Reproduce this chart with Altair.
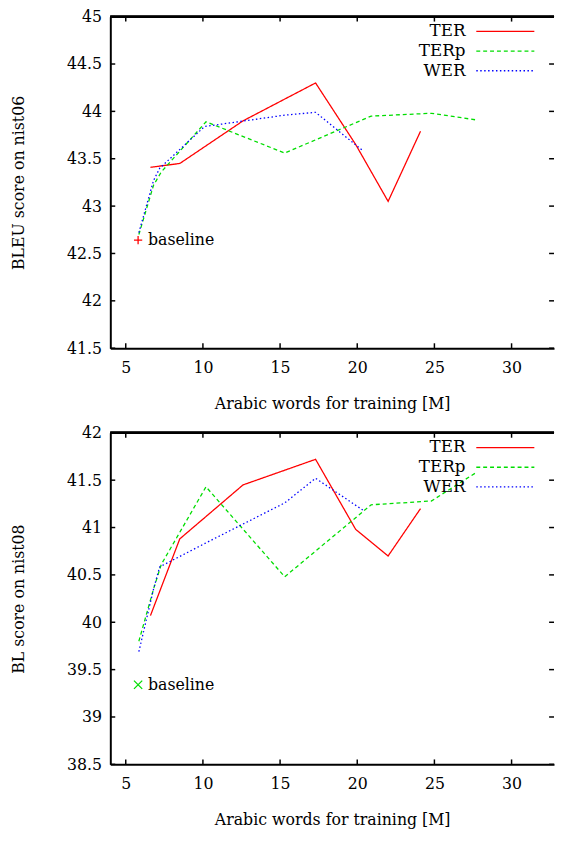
import altair as alt
import pandas as pd

# ---------------- data ----------------
series_names = ["TER", "TERp", "WER"]
series_colors = ["#ff0000", "#00dd00", "#0000ff"]
series_dash = [[1, 0], [4, 3], [1.5, 2.5]]

ter_x = [6.6, 8.5, 12.6, 17.3, 19.9, 22.0, 24.1]
terp_x = [5.85, 6.8, 7.3, 10.2, 15.3, 20.9, 24.8, 27.7]
wer_x = [5.85, 6.8, 7.2, 10.1, 15.3, 17.3, 20.4]

# BLEU on nist06
ter_y06 = [43.41, 43.45, 43.90, 44.30, 43.65, 43.05, 43.79]
terp_y06 = [42.70, 43.22, 43.36, 43.89, 43.56, 43.95, 43.98, 43.91]
wer_y06 = [42.72, 43.27, 43.40, 43.84, 43.96, 43.99, 43.58]

# BL on nist08
ter_y08 = [40.07, 40.88, 41.45, 41.72, 40.98, 40.70, 41.20]
terp_y08 = [39.80, 40.35, 40.61, 41.43, 40.48, 41.24, 41.28, 41.58]
wer_y08 = [39.69, 40.35, 40.585, 40.83, 41.26, 41.52, 41.18]

baseline_x = 5.8
baseline_y06 = 42.64
baseline_y08 = 39.34

x_ticks = [5, 10, 15, 20, 25, 30]
y_ticks_06 = [41.5, 42, 42.5, 43, 43.5, 44, 44.5, 45]
y_ticks_08 = [38.5, 39, 39.5, 40, 40.5, 41, 41.5, 42]

x_title = "Arabic words for training [M]"

# ---------------- style ----------------
W, H = 451, 337
FONT = "DejaVu Serif"
PLUS = "M-1,0L1,0M0,-1L0,1"
CROSS = "M-1,-1L1,1M-1,1L1,-1"


def panel(ys_list, base_y, base_shape, base_color, y_domain, y_ticks, y_title):
    rows = []
    for name, xs, ys in zip(series_names, [ter_x, terp_x, wer_x], ys_list):
        for i, (a, b) in enumerate(zip(xs, ys)):
            rows.append({"series": name, "x": a, "y": b, "order": i})
    df = pd.DataFrame(rows)

    xsc = alt.Scale(domain=[4, 32.75], nice=False, zero=False)
    ysc = alt.Scale(domain=y_domain, nice=False, zero=False)
    xax = alt.Axis(values=x_ticks, format="d", title=x_title, ticks=False, tickSize=0,
                   domain=True, domainColor="black", domainWidth=2, grid=False,
                   labelFont=FONT, labelFontSize=16, labelColor="black", labelPadding=12,
                   titleFont=FONT, titleFontSize=16, titleFontWeight="normal",
                   titleColor="black", titlePadding=20)
    yax = alt.Axis(values=y_ticks, format="~g", title=y_title, ticks=False, tickSize=0,
                   domain=True, domainColor="black", domainWidth=2, grid=False,
                   labelFont=FONT, labelFontSize=16, labelColor="black", labelPadding=9,
                   titleFont=FONT, titleFontSize=16, titleFontWeight="normal",
                   titleColor="black", titlePadding=41)
    X = alt.X("x:Q", scale=xsc, axis=xax)
    Y = alt.Y("y:Q", scale=ysc, axis=yax)

    lines = alt.Chart(df).mark_line(strokeWidth=1.3, clip=True).encode(
        x=X, y=Y,
        color=alt.Color("series:N", scale=alt.Scale(domain=series_names, range=series_colors), legend=None),
        strokeDash=alt.StrokeDash("series:N", scale=alt.Scale(domain=series_names, range=series_dash), legend=None),
        detail="series:N",
        order="order:Q",
    )

    bdf = pd.DataFrame({"x": [baseline_x], "y": [base_y], "label": ["baseline"]})
    bpt = alt.Chart(bdf).mark_point(shape=base_shape, size=70, filled=False,
                                    strokeWidth=1.3, color=base_color, opacity=1).encode(x=X, y=Y)
    btxt = alt.Chart(bdf).mark_text(align="left", baseline="middle", dx=10, font=FONT,
                                    fontSize=16, color="black").encode(x=X, y=Y, text="label:N")

    xt = pd.DataFrame({"x": x_ticks})
    yt = pd.DataFrame({"y": y_ticks})
    tk = dict(color="black", strokeWidth=1.5)
    bottom_ticks = alt.Chart(xt).mark_rule(**tk).encode(x=X, y=alt.value(H), y2=alt.value(H - 5))
    top_ticks = alt.Chart(xt).mark_rule(**tk).encode(x=X, y=alt.value(0), y2=alt.value(5))
    left_ticks = alt.Chart(yt).mark_rule(**tk).encode(y=Y, x=alt.value(0), x2=alt.value(5))
    right_ticks = alt.Chart(yt).mark_rule(**tk).encode(y=Y, x=alt.value(W - 5), x2=alt.value(W))
    top_border = alt.Chart(xt).mark_rule(color="black", strokeWidth=2).encode(
        x=alt.value(0), x2=alt.value(W), y=alt.value(0))

    layers = [lines, bpt, btxt, bottom_ticks, top_ticks, left_ticks, right_ticks, top_border]

    # legend (top right, labels left of line samples)
    for i, (name, col, dash) in enumerate(zip(series_names, series_colors, series_dash)):
        ldf = pd.DataFrame({"series": [name]})
        ly = 15 + 20 * i
        layers.append(alt.Chart(ldf).mark_text(align="right", baseline="middle", font=FONT,
                                               fontSize=17, color="black").encode(
            text="series:N", x=alt.value(361), y=alt.value(ly)))
        layers.append(alt.Chart(ldf).mark_rule(color=col, strokeDash=dash, strokeWidth=1.3).encode(
            x=alt.value(372), x2=alt.value(431), y=alt.value(ly)))

    return alt.layer(*layers).properties(width=W, height=H)


top = panel([ter_y06, terp_y06, wer_y06], baseline_y06, PLUS, "#ff0000",
            [41.5, 45], y_ticks_06, "BLEU score on nist06")
bottom = panel([ter_y08, terp_y08, wer_y08], baseline_y08, CROSS, "#00dd00",
               [38.5, 42], y_ticks_08, "BL score on nist08")

chart = alt.vconcat(top, bottom, spacing=86, bounds="flush").configure_view(
    stroke=None
).properties(padding={"left": 2, "top": -6, "right": 0, "bottom": 0})

chart.save("out.html", embed_options={"renderer": "svg", "actions": False})
